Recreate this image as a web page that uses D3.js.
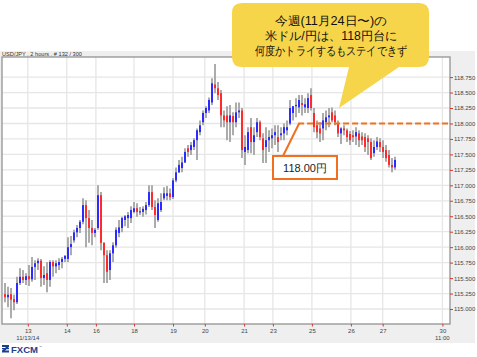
<!DOCTYPE html>
<html>
<head>
<meta charset="utf-8">
<script src="https://cdn.jsdelivr.net/npm/d3@7"></script>
<style>
  html, body { margin: 0; padding: 0; background: #ffffff; }
  svg { display: block; }
  text { font-family: Arial, "Liberation Sans", "DejaVu Sans", sans-serif; }
</style>
</head>
<body>
<svg id="chart" width="477" height="357"></svg>
<script>
// ---------------- DATA ----------------
const opens = [115.24,115.19,115.24,115.16,115.11,115.42,115.52,115.47,115.53,115.48,115.68,115.74,115.78,115.50,115.58,115.47,115.76,115.69,115.71,115.76,
115.81,115.81,116.00,116.11,116.24,116.31,116.41,116.68,116.47,116.31,116.23,116.31,116.84,116.07,115.87,115.63,115.90,116.03,116.23,116.31,
116.44,116.47,116.47,116.57,116.63,116.57,116.57,116.60,116.68,116.89,116.65,116.44,116.60,116.79,116.83,116.87,116.81,117.08,117.21,117.28,
117.37,117.60,117.57,117.62,117.73,117.86,118.02,118.17,118.21,118.34,118.63,118.57,118.49,118.13,118.13,118.02,118.12,118.02,118.18,118.21,
117.54,117.57,117.94,117.70,117.86,118.02,117.76,117.62,117.73,117.76,117.81,117.78,117.81,117.84,117.89,118.00,118.17,118.28,118.26,118.33,
118.26,118.25,118.46,118.17,117.97,117.92,117.92,118.02,118.10,118.18,118.13,118.00,117.84,117.92,117.89,117.83,117.81,117.79,117.84,117.79,
117.78,117.76,117.70,117.52,117.62,117.70,117.62,117.57,117.49,117.33,117.29];
const highs = [115.42,115.36,115.34,115.23,115.52,115.66,115.63,115.58,115.71,115.84,115.79,115.82,115.81,115.69,115.76,115.79,115.79,115.79,115.82,115.84,
115.87,116.16,116.18,116.28,116.36,116.44,116.79,116.76,116.60,116.44,116.31,117.00,116.89,116.08,115.95,115.95,116.08,116.32,116.44,116.49,
116.52,116.57,116.66,116.73,116.71,116.65,116.66,116.73,117.00,117.00,116.76,116.79,116.87,116.97,116.99,116.95,117.12,117.29,117.41,117.46,
117.60,117.65,117.70,117.76,117.92,118.05,118.21,118.28,118.42,118.73,118.96,118.67,118.54,118.21,118.28,118.30,118.18,118.34,118.34,118.25,
117.81,117.94,118.09,117.94,118.09,118.05,117.84,117.94,117.89,117.92,117.97,117.97,117.94,118.00,118.05,118.38,118.28,118.41,118.46,118.46,
118.41,118.49,118.57,118.25,118.05,118.02,118.17,118.21,118.25,118.26,118.21,118.05,117.94,117.97,117.92,117.88,117.89,117.94,117.89,117.86,
117.84,117.81,117.76,117.73,117.78,117.76,117.73,117.65,117.57,117.44,117.46];
const lows = [115.11,115.03,114.85,114.98,115.08,115.39,115.42,115.39,115.37,115.44,115.47,115.63,115.36,115.39,115.27,115.36,115.52,115.58,115.63,115.66,
115.76,115.76,115.87,116.07,116.16,116.23,116.37,116.00,116.07,116.03,116.16,116.28,115.95,115.42,115.42,115.47,115.76,115.99,116.16,116.24,
116.34,116.31,116.39,116.55,116.49,116.52,116.49,116.53,116.65,116.60,116.31,116.41,116.57,116.76,116.76,116.76,116.78,117.05,117.20,117.21,
117.36,117.46,117.49,117.57,117.41,117.81,117.97,118.09,118.17,118.30,118.49,118.38,117.94,117.94,117.73,117.70,117.81,117.94,118.09,117.44,
117.33,117.52,117.52,117.49,117.78,117.73,117.36,117.36,117.54,117.60,117.65,117.54,117.73,117.73,117.81,117.97,118.05,118.10,118.17,118.13,
118.17,118.17,118.21,117.86,117.76,117.70,117.73,117.89,117.94,118.02,117.97,117.78,117.67,117.81,117.70,117.65,117.70,117.65,117.62,117.65,
117.54,117.49,117.41,117.46,117.57,117.54,117.44,117.38,117.29,117.21,117.25];
const closes = [115.19,115.23,115.15,115.11,115.42,115.52,115.47,115.53,115.48,115.68,115.74,115.78,115.50,115.55,115.47,115.76,115.69,115.74,115.76,115.81,
115.86,116.00,116.05,116.24,116.31,116.41,116.68,116.47,116.31,116.23,116.28,116.84,116.07,115.87,115.60,115.90,116.03,116.28,116.32,116.47,
116.50,116.52,116.60,116.63,116.57,116.58,116.62,116.68,116.89,116.65,116.52,116.71,116.73,116.87,116.87,116.81,117.08,117.21,117.33,117.37,
117.54,117.54,117.65,117.73,117.89,117.97,118.17,118.25,118.38,118.65,118.57,118.46,118.13,118.05,118.02,118.13,118.02,118.18,118.21,117.57,
117.62,117.86,117.70,117.81,118.02,117.78,117.57,117.73,117.78,117.81,117.86,117.70,117.84,117.94,117.94,118.25,118.28,118.30,118.38,118.30,
118.31,118.41,118.25,117.94,117.86,117.84,118.05,118.10,118.13,118.05,118.02,117.84,117.92,117.89,117.78,117.73,117.78,117.86,117.73,117.73,
117.62,117.70,117.44,117.62,117.71,117.62,117.54,117.44,117.33,117.29,117.41];

const yTickValues = [115.00,115.25,115.50,115.75,116.00,116.25,116.50,116.75,117.00,117.25,117.50,117.75,118.00,118.25,118.50,118.75];
const xTickIndex  = [7.6, 20.6, 30.3, 43, 56, 66.6, 79.7, 89.3, 102.3, 115.3, 125.9, 145.8];
const xTickLabels = ["13","14","16","18","19","20","21","23","25","26","27","30"];
const xTickSub    = ["11/13/14","","","","","","","","","","","11:00"];

const headerText = "USD/JPY , 2 hours , # 132 / 300";
const calloutLines = ["今週(11月24日〜)の", "米ドル/円は、118円台に", "何度かトライするもステイできず"];
const levelPrice = 118.00;
const levelLabel = "118.00円";
const levelStartIndex = 97.7;

// ---------------- LAYOUT ----------------
const svg = d3.select("#chart");
const P = {left: 2, right: 450, top: 57, bottom: 324};

const x = d3.scaleLinear().domain([0, closes.length - 1]).range([5, 395]);
const y = d3.scaleLinear().domain([115, 118.75]).range([309, 77.1]);

// frame background
svg.append("rect").attr("x", 0).attr("y", 51).attr("width", 475).attr("height", 292).attr("fill", "#efefef");
svg.append("rect").attr("x", P.left).attr("y", P.top).attr("width", P.right - P.left).attr("height", P.bottom - P.top).attr("fill", "#ffffff");

// header text
svg.append("text").attr("x", 2).attr("y", 56).attr("font-size", 6).attr("fill", "#333")
  .attr("textLength", 80).attr("lengthAdjust", "spacingAndGlyphs").text(headerText);

// grid
const grid = svg.append("g");
grid.selectAll("line.h").data(yTickValues).join("line")
  .attr("x1", P.left).attr("x2", P.right).attr("y1", d => y(d)).attr("y2", d => y(d))
  .attr("stroke", "#e6e6e6").attr("stroke-width", 1.3);
grid.selectAll("line.v").data(xTickIndex).join("line")
  .attr("x1", d => x(d)).attr("x2", d => x(d)).attr("y1", P.top).attr("y2", P.bottom)
  .attr("stroke", "#e6e6e6").attr("stroke-width", 1.3);

// candles
const idx = d3.range(closes.length);
const cg = svg.append("g");
cg.selectAll("line.wick").data(idx).join("line")
  .attr("x1", i => x(i)).attr("x2", i => x(i))
  .attr("y1", i => y(highs[i])).attr("y2", i => y(lows[i]))
  .attr("stroke", "#a3a3a3").attr("stroke-width", 1.8);
cg.selectAll("rect.body").data(idx).join("rect")
  .attr("x", i => x(i) - 1).attr("width", 2)
  .attr("y", i => y(Math.max(opens[i], closes[i])))
  .attr("height", i => Math.max(1.2, Math.abs(y(opens[i]) - y(closes[i]))))
  .attr("fill", i => closes[i] >= opens[i] ? "#2b2bff" : "#ff2b2b");

// border
svg.append("rect").attr("x", P.left).attr("y", P.top).attr("width", P.right - P.left).attr("height", P.bottom - P.top)
  .attr("fill", "none").attr("stroke", "#9a9a9a").attr("stroke-width", 1.4);

// y axis
const yAxis = svg.append("g").attr("transform", `translate(${P.right},0)`)
  .call(d3.axisRight(y).tickValues(yTickValues).tickFormat(d3.format(".3f")).tickSize(3).tickPadding(1));
yAxis.select(".domain").remove();
yAxis.selectAll(".tick line").attr("stroke", "#e03030");
yAxis.selectAll(".tick text").attr("font-size", 6).attr("fill", "#444").attr("font-family", "Arial, 'Liberation Sans', sans-serif");

// x axis
const xAxis = svg.append("g").attr("transform", `translate(0,${P.bottom})`)
  .call(d3.axisBottom(x).tickValues(xTickIndex).tickFormat((d, i) => xTickLabels[i]).tickSize(2.5).tickPadding(2));
xAxis.select(".domain").remove();
xAxis.selectAll(".tick line").attr("stroke", "#e03030");
xAxis.selectAll(".tick text").attr("font-size", 6).attr("fill", "#444").attr("font-family", "Arial, 'Liberation Sans', sans-serif");
svg.append("g").selectAll("text").data(xTickIndex).join("text")
  .attr("x", d => x(d)).attr("y", 340).attr("text-anchor", "middle")
  .attr("font-size", 6).attr("fill", "#444").text((d, i) => xTickSub[i]);

// FXCM logo
const logo = svg.append("g").attr("transform", "translate(2,345)");
logo.append("path").attr("d", "M0,0 L7,0 L7,2 L3,5.5 L7,5.5 L7,7.5 L0,7.5 L0,5.5 L4,2 L0,2 Z").attr("fill", "#1d3f8f");
logo.append("path").attr("d", "M0,3 L7,3 L7,4.2 L0,4.2 Z").attr("fill", "#1d3f8f");
logo.append("text").attr("x", 9).attr("y", 7.5).attr("font-size", 9.5).attr("font-weight", "bold")
  .attr("fill", "#1d3f8f").attr("textLength", 27).attr("lengthAdjust", "spacingAndGlyphs").text("FXCM");
logo.append("text").attr("x", 37).attr("y", 2.5).attr("font-size", 3).attr("fill", "#1d3f8f").text("™");

// level dashed line + label
const ly = y(levelPrice);
svg.append("line").attr("x1", x(levelStartIndex)).attr("x2", P.right - 2).attr("y1", ly).attr("y2", ly)
  .attr("stroke", "#f07020").attr("stroke-width", 2).attr("stroke-dasharray", "6,3");
svg.append("line").attr("x1", 283).attr("y1", 156).attr("x2", x(levelStartIndex) + 1).attr("y2", ly)
  .attr("stroke", "#f07020").attr("stroke-width", 2);
svg.append("rect").attr("x", 273).attr("y", 156).attr("width", 64).attr("height", 23)
  .attr("fill", "#ffffff").attr("stroke", "#f07020").attr("stroke-width", 2);
svg.append("text").attr("x", 305).attr("y", 172).attr("text-anchor", "middle").attr("font-size", 11)
  .attr("fill", "#222").attr("font-family", "Arial, 'Noto Sans CJK JP', sans-serif").text(levelLabel);

// callout
svg.append("path")
  .attr("d", "M242,3 L419,3 Q429,3 429,13 L429,57 Q429,67 419,67 L399,67 L339,108 L349,67 L242,67 Q232,67 232,57 L232,13 Q232,3 242,3 Z")
  .attr("fill", "#f6d54b");
const lineWidths = [112, 133, 152];
const baselines = [24.5, 39.5, 54.5];
svg.append("g").selectAll("text").data(calloutLines).join("text")
  .attr("x", 331).attr("y", (d, i) => baselines[i]).attr("text-anchor", "middle")
  .attr("font-size", 12).attr("fill", "#111")
  .attr("font-family", "'Noto Sans CJK JP', sans-serif")
  .attr("textLength", (d, i) => lineWidths[i]).attr("lengthAdjust", "spacingAndGlyphs")
  .text(d => d);
</script>
</body>
</html>
